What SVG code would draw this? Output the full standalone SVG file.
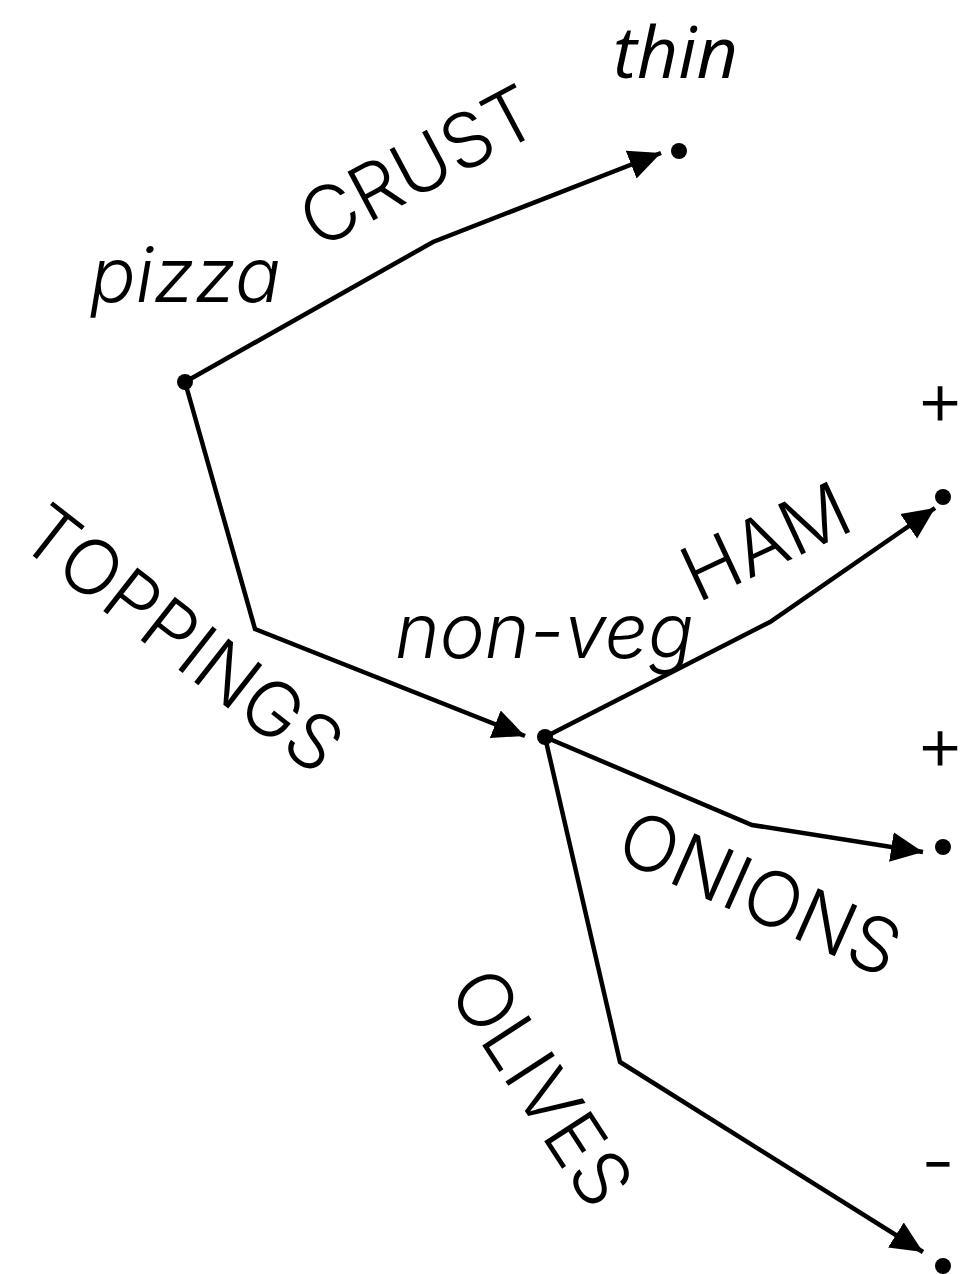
<svg xmlns="http://www.w3.org/2000/svg" width="968" height="1274" viewBox="0 0 968 1274">
<style>
.lbl{font-family:Inter,"Liberation Sans",sans-serif;font-weight:300;font-size:76px;fill:#000}
.it{font-style:italic}
.edge{fill:none;stroke:#000;stroke-width:4.5;stroke-linejoin:miter}
.dot{fill:#000}
</style>
<defs>
<marker id="arr" markerUnits="userSpaceOnUse" markerWidth="32" markerHeight="32" refX="28" refY="13" orient="auto" viewBox="0 0 28 26">
<path d="M0,0 L28,13 L0,26 Z" fill="#000"/>
</marker>
</defs>
<rect width="968" height="1274" fill="#fff"/>
<g id="connectors">
<path class="edge" d="M185,382 L433,242 L661,153" marker-end="url(#arr)"/>
<path class="edge" d="M185,382 L255,629 L525,736" marker-end="url(#arr)"/>
<path class="edge" d="M545,737 L770,622 L935,508" marker-end="url(#arr)"/>
<path class="edge" d="M545,737 L752,825 L923,852" marker-end="url(#arr)"/>
<path class="edge" d="M545,737 L620,1062 L923,1252" marker-end="url(#arr)"/>
<text class="lbl" text-anchor="middle" transform="translate(431,190) rotate(-28)">CRUST</text>
<text class="lbl" text-anchor="middle" transform="translate(166,660) rotate(38)">TOPPINGS</text>
<text class="lbl" text-anchor="middle" transform="translate(777,566) rotate(-25)">HAM</text>
<text class="lbl" text-anchor="middle" transform="translate(749,918) rotate(24)">ONIONS</text>
<text class="lbl" text-anchor="middle" transform="translate(519,1102) rotate(57)">OLIVES</text>
</g>
<g id="node-pizza">
<circle class="dot" cx="185" cy="382" r="8"/>
<text class="lbl it" x="90" y="302" font-size="73">pizza</text>
</g>
<g id="node-thin">
<circle class="dot" cx="679" cy="151" r="8"/>
<text x="613" y="78" font-family="'Open Sans','DejaVu Sans',sans-serif" font-style="italic" font-size="72">thin</text>
</g>
<g id="node-nonveg">
<circle class="dot" cx="545" cy="737" r="8"/>
<text class="lbl it" x="395" y="658" font-size="78">non-veg</text>
</g>
<g id="node-ham">
<circle class="dot" cx="943" cy="497" r="8"/>
<text class="lbl" x="940" y="425" text-anchor="middle" font-size="60">+</text>
</g>
<g id="node-onions">
<circle class="dot" cx="943" cy="847" r="8"/>
<text class="lbl" x="940" y="770" text-anchor="middle" font-size="60">+</text>
</g>
<g id="node-olives">
<circle class="dot" cx="943" cy="1266" r="8"/>
<text class="lbl" x="938" y="1188" text-anchor="middle" font-size="60">-</text>
</g>
</svg>
